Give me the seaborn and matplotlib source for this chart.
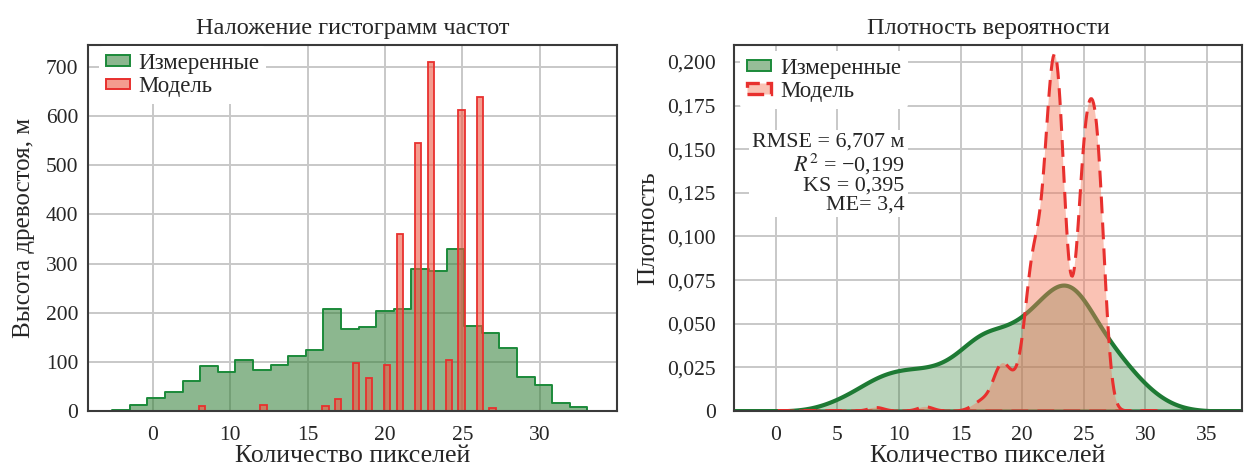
import numpy as np
import pandas as pd
import seaborn as sns
import matplotlib.pyplot as plt
from matplotlib.patches import Patch
from matplotlib.ticker import FuncFormatter, FixedLocator

# ---------------- data ----------------
meas_centers = [2.93, 4.07, 5.21, 6.34, 7.48, 8.62, 9.76, 10.90, 12.03, 13.17,
                14.31, 15.45, 16.59, 17.72, 18.86, 20.00, 21.14, 22.28, 23.41,
                24.55, 25.69, 26.83, 27.97, 29.10, 30.24, 31.38, 32.52]
meas_counts = [2, 12, 27, 39, 62, 92, 80, 103, 84, 93, 111, 124, 208, 167, 171,
               204, 208, 289, 285, 329, 173, 158, 129, 70, 53, 16, 9]

model_values = [4.55, 8.15, 12.15, 16.15, 16.95, 18.15, 18.95, 20.15, 20.95,
                22.15, 22.95, 24.15, 25.10, 26.10, 26.95]
model_counts = [1, 10, 12, 10, 24, 98, 68, 93, 360, 545, 710, 103, 613, 640, 7]

hist_xticks = [5, 10, 15, 20, 25, 30]
hist_xticklabels = ["0", "10", "15", "20", "25", "30"]
hist_yticks = [0, 100, 200, 300, 400, 500, 600, 700]
kde_xticks = [0, 5, 10, 15, 20, 25, 30, 35]
kde_yticks = [0, 0.025, 0.05, 0.075, 0.1, 0.125, 0.15, 0.175, 0.2]

stats_text = "RMSE = 6,707 м\n$R^2$ = −0,199\nKS = 0,395\nME= 3,4"

meas = pd.DataFrame({"x": meas_centers, "w": meas_counts})
model = pd.DataFrame({"x": model_values, "w": model_counts})

# ---------------- style ----------------
sns.set_style("whitegrid", {"grid.color": "#c8c8c8", "axes.edgecolor": "#3a3a3a"})
plt.rcParams["font.family"] = ["Liberation Serif", "DejaVu Serif"]
plt.rcParams["mathtext.fontset"] = "stix"
plt.rcParams["axes.unicode_minus"] = False

GREEN_EDGE = "#1b8a3a"
RED_EDGE = "#e8302e"
GREEN_HIST_FACE = (0.18, 0.49, 0.2, 0.55)
RED_HIST_FACE = (0.933, 0.353, 0.27, 0.6)
GREEN_KDE_FACE = (0.18, 0.49, 0.2, 0.33)
RED_KDE_FACE = (0.957, 0.47, 0.353, 0.45)

fig = plt.figure(figsize=(12.44, 4.70), dpi=100)
ax1 = fig.add_axes([88 / 1244, 59 / 470, 529 / 1244, 366 / 470])
ax2 = fig.add_axes([734 / 1244, 59 / 470, 508 / 1244, 366 / 470])

for ax in (ax1, ax2):
    ax.set_axisbelow(True)
    ax.grid(True, color="#c8c8c8", lw=1.4)
    for s in ax.spines.values():
        s.set_color("#3a3a3a")
        s.set_linewidth(1.5)
        s.set_visible(True)
    ax.tick_params(length=0, labelsize=15.5)
    ax.tick_params(axis="x", pad=11)
ax1.tick_params(axis="y", pad=7)
ax2.tick_params(axis="y", pad=13)

# ---------------- left: histograms ----------------
meas_bins = np.linspace(2.36, 33.09, 28).tolist()
model_bins = np.arange(4.35, 27.2, 0.4).tolist()

sns.histplot(data=meas, x="x", weights="w", bins=meas_bins, element="step",
             fill=True, facecolor=GREEN_HIST_FACE, edgecolor=GREEN_EDGE,
             linewidth=1.4, ax=ax1)
sns.histplot(data=model, x="x", weights="w", bins=model_bins, element="bars",
             fill=True, facecolor=RED_HIST_FACE, edgecolor=RED_EDGE,
             linewidth=1.3, ax=ax1)

ax1.set_xlim(0.8, 35.0)
ax1.set_ylim(0, 745)
ax1.xaxis.set_major_locator(FixedLocator(hist_xticks))
ax1.set_xticklabels(hist_xticklabels)
ax1.yaxis.set_major_locator(FixedLocator(hist_yticks))
ax1.set_title("Наложение гистограмм частот", fontsize=17.5, pad=8)
ax1.set_xlabel("Количество пикселей", fontsize=18.5, labelpad=0)
ax1.set_ylabel("Высота древостоя, м", fontsize=18, labelpad=8)
h1 = [Patch(facecolor=GREEN_HIST_FACE, edgecolor=GREEN_EDGE, linewidth=1.4, label="Измеренные"),
      Patch(facecolor=RED_HIST_FACE, edgecolor=RED_EDGE, linewidth=1.4, label="Модель")]
ax1.legend(handles=h1, loc="upper left", bbox_to_anchor=(0.021, 0.997),
           fontsize=16.5, frameon=True, facecolor="white",
           edgecolor="none", framealpha=1, handlelength=1.05, handleheight=0.35,
           borderaxespad=0.0, labelspacing=0.1, handletextpad=0.35,
           borderpad=0.3)

# ---------------- right: KDE ----------------
def wstd(x, w):
    x = np.asarray(x, float)
    w = np.asarray(w, float)
    m = np.average(x, weights=w)
    return np.sqrt(np.average((x - m) ** 2, weights=w))

sns.kdeplot(data=meas, x="x", weights="w", bw_method=1.5 / wstd(meas_centers, meas_counts),
            fill=True, facecolor=GREEN_KDE_FACE, edgecolor="#1e7a34",
            linewidth=3.0, ax=ax2, gridsize=400)
sns.kdeplot(data=model, x="x", weights="w", bw_method=0.56 / wstd(model_values, model_counts),
            fill=True, facecolor=RED_KDE_FACE, edgecolor=RED_EDGE,
            linewidth=2.2, linestyle=(0, (5.5, 3)), ax=ax2, gridsize=400)

ax2.set_xlim(-3.4, 37.85)
ax2.set_ylim(0, 0.2097)
ax2.xaxis.set_major_locator(FixedLocator(kde_xticks))
ax2.yaxis.set_major_locator(FixedLocator(kde_yticks))
ax2.yaxis.set_major_formatter(FuncFormatter(
    lambda v, p: "0" if abs(v) < 1e-9 else f"{v:.3f}".replace(".", ",")))
ax2.set_title("Плотность вероятности", fontsize=17.5, pad=8)
ax2.set_xlabel("Количество пикселей", fontsize=18.5, labelpad=0)
ax2.set_ylabel("Плотность", fontsize=18, labelpad=6)
h2 = [Patch(facecolor=(0.18, 0.49, 0.2, 0.5), edgecolor=GREEN_EDGE, linewidth=1.4, label="Измеренные"),
      Patch(facecolor=RED_KDE_FACE, edgecolor=RED_EDGE, linewidth=2.4,
            linestyle=(0, (5, 2)), label="Модель")]
ax2.legend(handles=h2, loc="upper left", fontsize=16.5, frameon=True, facecolor="white",
           edgecolor="none", framealpha=1, handlelength=1.05, handleheight=0.35,
           borderaxespad=0.25, labelspacing=0.1, handletextpad=0.4,
           borderpad=0.3)
ax2.text(0.336, 0.761, stats_text, transform=ax2.transAxes, ha="right", va="top",
         fontsize=15.8, linespacing=1.0,
         bbox=dict(facecolor="white", edgecolor="none", pad=2))

fig.savefig("out.png", dpi=100)
